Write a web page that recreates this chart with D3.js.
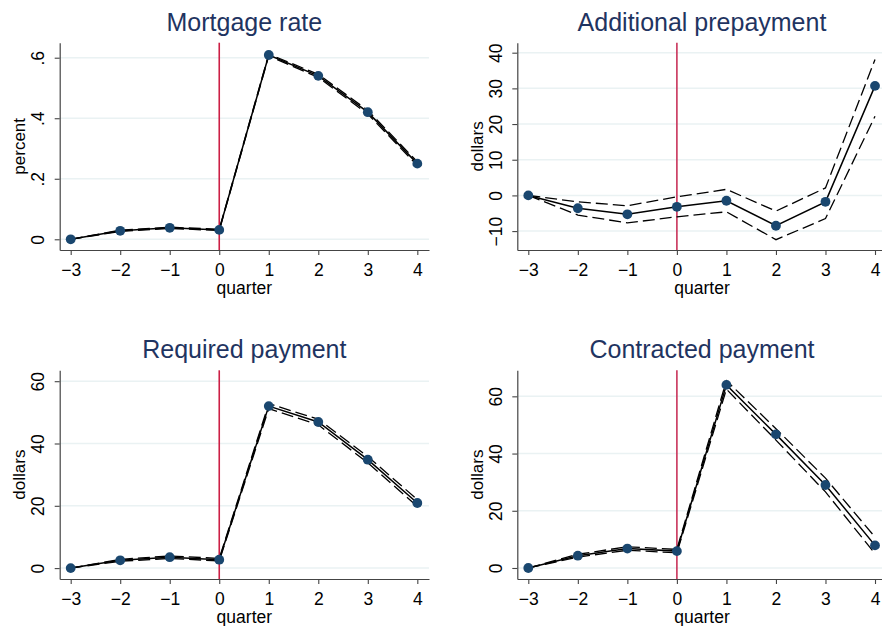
<!DOCTYPE html>
<html>
<head>
<meta charset="utf-8">
<script src="https://cdn.jsdelivr.net/npm/d3@7"></script>
<style>
  html, body { margin: 0; padding: 0; background: #ffffff; }
  svg { display: block; }
  text { font-family: "Liberation Sans", Arial, Helvetica, sans-serif; }
</style>
</head>
<body>
<svg id="chart" width="882" height="626"></svg>
<script>
// Event-study estimates by quarter relative to the rate reset (quarter 0)
const quarters = [-3, -2, -1, 0, 1, 2, 3, 4];

const mortgageRate   = [0, 0.028, 0.038, 0.031, 0.609, 0.540, 0.420, 0.250];
const mortgageRateHi = [0, 0.030, 0.040, 0.033, 0.612, 0.545, 0.426, 0.256];
const mortgageRateLo = [0, 0.026, 0.036, 0.029, 0.606, 0.535, 0.414, 0.244];

const prepayment   = [0, -3.6, -5.3, -3.2, -1.5,  -8.5, -1.8, 30.7];
const prepaymentHi = [0, -1.8, -2.9, -0.4,  1.7,  -4.4,  2.1, 38.1];
const prepaymentLo = [0, -5.5, -7.7, -6.0, -4.6, -12.4, -6.5, 22.2];

const required   = [0, 2.5, 3.5, 2.7, 52.0, 46.9, 34.8, 20.9];
const requiredHi = [0, 2.8, 3.9, 3.1, 52.8, 47.8, 35.8, 22.0];
const requiredLo = [0, 2.2, 3.1, 2.3, 51.2, 46.0, 33.8, 19.8];

const contracted   = [0, 4.3, 6.8, 5.9, 64.0, 46.7, 29.0,  7.9];
const contractedHi = [0, 4.8, 7.4, 6.5, 65.5, 48.7, 31.4, 10.8];
const contractedLo = [0, 3.8, 6.2, 5.3, 62.5, 44.7, 26.6,  5.0];

const mortgageTicks   = [0, 0.2, 0.4, 0.6];
const prepaymentTicks = [-10, 0, 10, 20, 30, 40];
const paymentTicks    = [0, 20, 40, 60];

const titles = ["Mortgage rate", "Additional prepayment", "Required payment", "Contracted payment"];
const yTitles = ["percent", "dollars", "dollars", "dollars"];

const minus = s => String(s).replace("-", "\u2212");
const fmtRate = d => d === 0 ? "0" : d3.format(".1f")(d).replace(/^0/, "");

// panel frames: plot rectangle, axis ranges, text offsets
const panels = [
  { title: titles[0], ytitle: yTitles[0], est: mortgageRate, hi: mortgageRateHi, lo: mortgageRateLo,
    ticks: mortgageTicks, fmt: fmtRate, xd: [-3.222, 4.236], yd: [-0.0354, 0.6496],
    left: 59.7, right: 429, top: 42.7, bottom: 250, labX: 43.5, ttlX: 24.5, ref: "#cc1f45" },
  { title: titles[1], ytitle: yTitles[1], est: prepayment, hi: prepaymentHi, lo: prepaymentLo,
    ticks: prepaymentTicks, fmt: d => minus(d), xd: [-3.222, 4.236], yd: [-15.3, 42.8],
    left: 517.3, right: 886.7, top: 42.7, bottom: 250, labX: 502, ttlX: 482.7, ref: "#c9335a" },
  { title: titles[2], ytitle: yTitles[2], est: required, hi: requiredHi, lo: requiredLo,
    ticks: paymentTicks, fmt: d => minus(d), xd: [-3.222, 4.236], yd: [-3.5, 63.5],
    left: 59.7, right: 429, top: 370.3, bottom: 579, labX: 43.5, ttlX: 24.5, ref: "#cc1f45" },
  { title: titles[3], ytitle: yTitles[3], est: contracted, hi: contractedHi, lo: contractedLo,
    ticks: paymentTicks, fmt: d => minus(d), xd: [-3.222, 4.236], yd: [-3.85, 69.1],
    left: 517.3, right: 886.7, top: 370.3, bottom: 579, labX: 502, ttlX: 482.7, ref: "#c9335a" }
];

const svg = d3.select("#chart");

panels.forEach(p => {
  const x = d3.scaleLinear().domain(p.xd).range([p.left, p.right]);
  const y = d3.scaleLinear().domain(p.yd).range([p.bottom, p.top]);
  const g = svg.append("g");

  // horizontal gridlines
  g.append("g").selectAll("line").data(p.ticks).join("line")
    .attr("x1", p.left).attr("x2", p.right)
    .attr("y1", d => y(d)).attr("y2", d => y(d))
    .attr("stroke", "#eaf2f3").attr("stroke-width", 1.5);

  // reference line at quarter 0
  g.append("line")
    .attr("x1", x(0)).attr("x2", x(0))
    .attr("y1", p.top).attr("y2", p.bottom)
    .attr("stroke", p.ref).attr("stroke-width", 1.6);

  const line = d3.line().x((d, i) => x(quarters[i])).y(d => y(d));

  // confidence bounds
  [p.hi, p.lo].forEach(b => {
    g.append("path").datum(b).attr("d", line)
      .attr("fill", "none").attr("stroke", "#000")
      .attr("stroke-width", 1.3).attr("stroke-dasharray", "12,5");
  });

  // point estimates
  g.append("path").datum(p.est).attr("d", line)
    .attr("fill", "none").attr("stroke", "#000").attr("stroke-width", 1.5);

  g.append("g").selectAll("circle").data(p.est).join("circle")
    .attr("cx", (d, i) => x(quarters[i])).attr("cy", d => y(d))
    .attr("r", 4.9).attr("fill", "#1a476f");

  // x axis
  const xa = g.append("g").attr("transform", `translate(0,${p.bottom})`)
    .call(d3.axisBottom(x).tickValues(quarters).tickSize(5).tickSizeOuter(0).tickPadding(0)
      .tickFormat(d => minus(d)));
  xa.select(".domain").attr("stroke", "#444").attr("stroke-width", 1.2);
  xa.selectAll(".tick line").attr("stroke", "#444").attr("stroke-width", 1.1);
  xa.selectAll(".tick text").attr("y", 25.5).attr("dy", null)
    .attr("font-size", 17.5).attr("fill", "#000");

  // y axis
  const ya = g.append("g").attr("transform", `translate(${p.left},0)`)
    .call(d3.axisLeft(y).tickValues(p.ticks).tickSize(5).tickSizeOuter(0).tickFormat(p.fmt));
  ya.select(".domain").attr("stroke", "#444").attr("stroke-width", 1.2);
  ya.selectAll(".tick line").attr("stroke", "#444").attr("stroke-width", 1.1);
  ya.selectAll(".tick text")
    .attr("x", null).attr("dy", null).attr("y", null)
    .attr("text-anchor", "middle")
    .attr("transform", `translate(${p.labX - p.left},0) rotate(-90)`)
    .attr("font-size", 17.5).attr("fill", "#000");

  // axis titles
  g.append("text")
    .attr("x", (p.left + p.right) / 2).attr("y", p.bottom + 44)
    .attr("text-anchor", "middle").attr("font-size", 17.5).attr("fill", "#000")
    .text("quarter");
  g.append("text")
    .attr("transform", `translate(${p.ttlX},${(p.top + p.bottom) / 2}) rotate(-90)`)
    .attr("text-anchor", "middle").attr("font-size", 17).attr("fill", "#000")
    .text(p.ytitle);

  // panel title
  g.append("text")
    .attr("x", (p.left + p.right) / 2).attr("y", p.top - 12)
    .attr("text-anchor", "middle").attr("font-size", 25).attr("fill", "#1f3461")
    .text(p.title);
});
</script>
</body>
</html>
